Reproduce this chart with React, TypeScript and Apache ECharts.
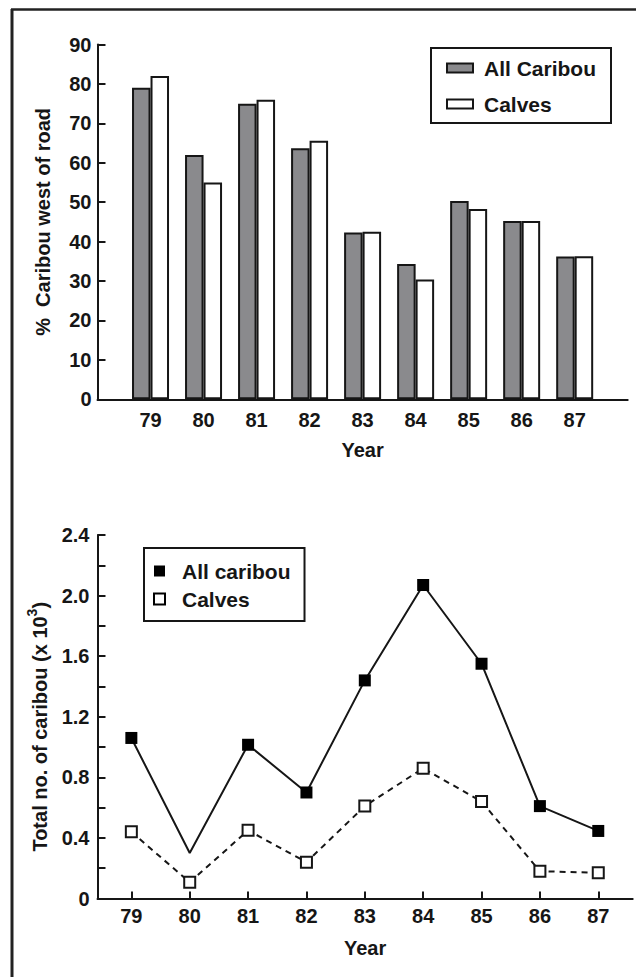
import React, { useEffect, useRef } from "react";
import * as echarts from "echarts";

const years = [79, 80, 81, 82, 83, 84, 85, 86, 87];
const allCaribouPct = [79, 62, 75, 63.7, 42.3, 34.3, 50.3, 45.2, 36.2];
const calvesPct = [82, 55, 76, 65.6, 42.5, 30.4, 48.3, 45.2, 36.3];
const allCaribouTotal = [1.06, 0.3, 1.015, 0.7, 1.44, 2.07, 1.55, 0.61, 0.446];
const calvesTotal = [0.44, 0.107, 0.45, 0.24, 0.61, 0.86, 0.64, 0.18, 0.17];
const noMarkerYears = [80];

const FONT = "'Liberation Sans', Arial, Helvetica, sans-serif";
const INK = "#161616";

export default function App() {
  const ref = useRef<HTMLDivElement>(null);
  useEffect(() => {
    if (!ref.current) return;
    const chart = echarts.init(ref.current, null, { renderer: "svg" });
    const axisLabelBase = { color: INK, fontFamily: FONT, fontWeight: "bold" as const, fontSize: 20 };
    const option: any = {
      animation: false,
      backgroundColor: "#ffffff",
      textStyle: { fontFamily: FONT, color: INK },
      graphic: [
        { type: "line", shape: { x1: 12, y1: 9, x2: 12, y2: 977 }, style: { stroke: "#222", lineWidth: 3 } },
        { type: "line", shape: { x1: 11, y1: 9.5, x2: 636, y2: 9.5 }, style: { stroke: "#222", lineWidth: 2.5 } },
      ],
      legend: [
        {
          orient: "vertical",
          left: 431,
          top: 48,
          padding: [8, 15, 7, 15],
          itemGap: 12,
          itemWidth: 26,
          itemHeight: 9,
          borderColor: INK,
          borderWidth: 2,
          textStyle: { color: INK, fontFamily: FONT, fontWeight: "bold", fontSize: 21, lineHeight: 24, padding: [0, 0, 0, 6] },
          data: [
            { name: "All Caribou", icon: "rect" },
            { name: "Calves", icon: "rect" },
          ],
        },
        {
          orient: "vertical",
          left: 144,
          top: 548,
          padding: [12, 14, 11, 9],
          itemGap: 6,
          itemWidth: 11,
          itemHeight: 11,
          borderColor: INK,
          borderWidth: 2,
          textStyle: { color: INK, fontFamily: FONT, fontWeight: "bold", fontSize: 21, lineHeight: 22, padding: [0, 0, 0, 12] },
          data: [
            { name: "All caribou", icon: "rect", itemStyle: { color: "#000", borderWidth: 0 } },
            { name: "Calves ", icon: "rect", itemStyle: { color: "#fff", borderColor: "#000", borderWidth: 2 } },
          ],
        },
      ],
      grid: [
        { left: 97.5, right: 8.3, top: 44.5, bottom: 977 - 399.3 },
        { left: 97.5, right: 3.3, top: 535, bottom: 977 - 898.5 },
      ],
      xAxis: [
        {
          type: "value",
          gridIndex: 0,
          min: 78,
          max: 88,
          interval: 1,
          splitLine: { show: false },
          axisLine: { lineStyle: { color: INK, width: 2 } },
          axisTick: { show: false },
          axisLabel: { ...axisLabelBase, margin: 11, customValues: years, formatter: (v: number) => String(v) },
          name: "Year",
          nameLocation: "middle",
          nameGap: 41,
          nameTextStyle: { ...axisLabelBase, fontSize: 20 },
        },
        {
          type: "value",
          gridIndex: 1,
          min: 78.42,
          max: 87.59,
          splitLine: { show: false },
          axisLine: { lineStyle: { color: INK, width: 2 } },
          axisTick: { show: true, inside: true, length: 7, lineStyle: { color: INK, width: 2 }, customValues: years },
          axisLabel: { ...axisLabelBase, margin: 7, customValues: years, formatter: (v: number) => String(v) },
          name: "Year",
          nameLocation: "middle",
          nameGap: 39,
          nameTextStyle: { ...axisLabelBase, fontSize: 20 },
        },
      ],
      yAxis: [
        {
          type: "value",
          gridIndex: 0,
          min: 0,
          max: 90,
          interval: 10,
          splitLine: { show: false },
          axisLine: { show: true, lineStyle: { color: INK, width: 2 } },
          axisTick: { show: true, inside: true, length: 8, lineStyle: { color: INK, width: 2 } },
          axisLabel: { ...axisLabelBase, margin: 6 },
          name: "%  Caribou west of road",
          nameLocation: "middle",
          nameGap: 45,
          nameTextStyle: { ...axisLabelBase, fontSize: 20 },
        },
        {
          type: "value",
          gridIndex: 1,
          min: 0,
          max: 2.4,
          interval: 0.2,
          splitLine: { show: false },
          axisLine: { show: true, lineStyle: { color: INK, width: 2 } },
          axisTick: { show: true, inside: true, length: 8, lineStyle: { color: INK, width: 2 } },
          axisLabel: {
            ...axisLabelBase,
            margin: 8,
            formatter: (v: number) => {
              const k = Math.round(v * 10);
              if (k % 4 !== 0) return "";
              return k === 0 ? "0" : (k / 10).toFixed(1);
            },
          },
          name: "{a|Total no. of caribou (x 10}{s|3}{a|)}",
          nameLocation: "middle",
          nameGap: 43,
          nameTextStyle: {
            ...axisLabelBase,
            padding: [0, 20, 0, 0],
            rich: {
              a: { fontFamily: FONT, fontWeight: "bold", fontSize: 20, color: INK, lineHeight: 30 },
              s: { fontFamily: FONT, fontWeight: "bold", fontSize: 14, color: INK, lineHeight: 16, verticalAlign: "top" },
            },
          },
        },
      ],
      series: [
        {
          name: "All Caribou",
          type: "bar",
          xAxisIndex: 0,
          yAxisIndex: 0,
          barWidth: 18.5,
          barGap: "0%",
          itemStyle: { color: "#8a8a8d", borderColor: INK, borderWidth: 2 },
          data: years.map((y, i) => [y, allCaribouPct[i]]),
        },
        {
          name: "Calves",
          type: "bar",
          xAxisIndex: 0,
          yAxisIndex: 0,
          barWidth: 18.5,
          barGap: "0%",
          itemStyle: { color: "#ffffff", borderColor: INK, borderWidth: 2 },
          data: years.map((y, i) => [y, calvesPct[i]]),
        },
        {
          name: "All caribou",
          type: "line",
          xAxisIndex: 1,
          yAxisIndex: 1,
          symbol: "rect",
          symbolSize: 12,
          lineStyle: { color: INK, width: 2 },
          itemStyle: { color: "#000", borderWidth: 0 },
          data: years.map((y, i) =>
            noMarkerYears.includes(y) ? { value: [y, allCaribouTotal[i]], symbol: "none" } : [y, allCaribouTotal[i]]
          ),
          z: 3,
        },
        {
          name: "Calves ",
          type: "line",
          xAxisIndex: 1,
          yAxisIndex: 1,
          symbol: "rect",
          symbolSize: 11,
          lineStyle: { color: INK, width: 2, type: [6, 5] },
          itemStyle: { color: "#fff", borderColor: INK, borderWidth: 2 },
          data: years.map((y, i) => [y, calvesTotal[i]]),
          z: 2,
        },
      ],
    };
    chart.setOption(option);
    return () => chart.dispose();
  }, []);
  return <div ref={ref} style={{ position: "fixed", left: 0, top: 0, width: 636, height: 977 }} />;
}
